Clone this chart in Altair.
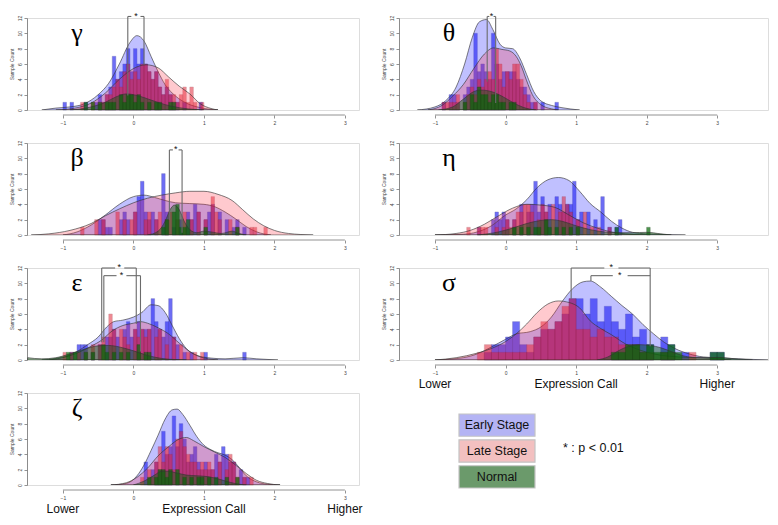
import altair as alt
import pandas as pd

SANS = "Liberation Sans, Arial, sans-serif"
SERIF = "Liberation Serif, Times New Roman, serif"

GROUPS = ["Early Stage", "Late Stage", "Normal"]
BAR_FILL = {"Early Stage": "#1414f0", "Late Stage": "#e0182a", "Normal": "#0b6b0b"}
BAR_OPACITY = {"Early Stage": 0.62, "Late Stage": 0.5, "Normal": 0.72}
BAR_STROKE = {"Early Stage": "#10108a", "Late Stage": "#8a1020", "Normal": "#0a3a0a"}
DENS_FILL = {"Early Stage": "#3030ff", "Late Stage": "#ff3040", "Normal": "#0a5a0a"}
DENS_OPACITY = {"Early Stage": 0.3, "Late Stage": 0.26, "Normal": 0.45}

X_TICKS = [-1, 0, 1, 2, 3]
Y_TICKS = [0, 2, 4, 6, 8, 10, 12]
FOOT_X = [-1, 1, 3]
FOOT_TEXT = ["Lower", "Expression Call", "Higher"]
LEGEND_LABELS = ["Early Stage", "Late Stage", "Normal"]
LEGEND_FILLS = ["#b4b4f4", "#f3c0c0", "#6b9a6b"]
P_NOTE = "* : p < 0.01"

# ---------------- gamma ----------------
GAMMA_EARLY_BARS = [(-1.0, 1), (-0.9, 1), (-0.7, 1), (-0.55, 1), (-0.5, 2), (-0.45, 1), (-0.4, 2), (-0.35, 3),
                    (-0.3, 7), (-0.25, 4), (-0.2, 5), (-0.15, 6), (-0.1, 8), (-0.05, 5), (0.0, 8), (0.05, 6),
                    (0.1, 8), (0.15, 6), (0.2, 5), (0.25, 4), (0.3, 5), (0.35, 3), (0.4, 2), (0.45, 3),
                    (0.5, 2), (0.55, 1), (0.6, 1), (0.7, 1), (0.93, 1)]
GAMMA_LATE_BARS = [(-0.75, 1), (-0.6, 1), (-0.5, 1), (-0.45, 1), (-0.4, 2), (-0.35, 2), (-0.3, 3), (-0.25, 4),
                   (-0.2, 3), (-0.15, 5), (-0.1, 6), (-0.05, 4), (0.0, 5), (0.05, 4), (0.1, 6), (0.15, 6),
                   (0.2, 5), (0.25, 4), (0.3, 5), (0.35, 3), (0.4, 2), (0.45, 4), (0.5, 2), (0.55, 2),
                   (0.6, 1), (0.65, 2), (0.7, 3), (0.75, 1), (0.8, 3), (0.85, 1), (0.95, 1)]
GAMMA_NORMAL_BARS = [(-0.7, 1), (-0.6, 1), (-0.5, 1), (-0.4, 1), (-0.35, 1), (-0.3, 1), (-0.2, 2), (-0.15, 1),
                     (-0.1, 2), (-0.05, 2), (0.0, 1), (0.05, 2), (0.1, 1), (0.2, 1), (0.3, 1), (0.35, 1),
                     (0.5, 1), (0.55, 1)]
GAMMA_EARLY_DENS = [(-1.3, 0), (-1.1, 0.25), (-0.9, 0.4), (-0.7, 0.8), (-0.5, 2.0), (-0.35, 3.5), (-0.2, 6.0),
                    (-0.05, 8.8), (0.05, 9.7), (0.15, 9.0), (0.25, 7.0), (0.35, 5.0), (0.45, 3.3), (0.6, 1.8),
                    (0.75, 0.9), (0.95, 0.3), (1.2, 0)]
GAMMA_LATE_DENS = [(-1.1, 0), (-0.8, 0.3), (-0.6, 0.9), (-0.4, 2.2), (-0.2, 4.0), (0.0, 5.4), (0.18, 5.9),
                   (0.35, 5.5), (0.5, 4.3), (0.65, 3.1), (0.8, 2.1), (0.95, 0.8), (1.1, 0.2), (1.2, 0)]
GAMMA_NORMAL_DENS = [(-0.9, 0), (-0.6, 0.4), (-0.4, 1.0), (-0.25, 1.7), (-0.1, 2.1), (0.05, 1.9), (0.25, 1.3),
                     (0.45, 0.7), (0.65, 0.3), (0.9, 0.05), (1.0, 0)]
GAMMA_SEGS = [(-0.08, 1.9, -0.08, 12.2), (0.15, 5.9, 0.15, 12.2), (-0.08, 12.2, -0.03, 12.2), (0.1, 12.2, 0.15, 12.2)]
GAMMA_STARS = [(0.035, 12.3)]

# ---------------- theta ----------------
THETA_EARLY_BARS = [(-0.9, 1), (-0.8, 2), (-0.75, 2), (-0.7, 1), (-0.6, 2), (-0.55, 3), (-0.5, 4), (-0.45, 10),
                    (-0.4, 5), (-0.35, 6), (-0.3, 5), (-0.25, 4), (-0.2, 10), (-0.15, 6), (-0.1, 4), (-0.05, 5),
                    (0.0, 5), (0.05, 5), (0.1, 5), (0.15, 4), (0.2, 3), (0.25, 3), (0.3, 2), (0.35, 1),
                    (0.4, 1), (0.5, 1), (0.7, 1)]
THETA_LATE_BARS = [(-0.9, 1), (-0.85, 1), (-0.8, 1), (-0.75, 1), (-0.7, 2), (-0.6, 1), (-0.55, 2), (-0.5, 3),
                   (-0.45, 2), (-0.4, 4), (-0.35, 3), (-0.3, 4), (-0.25, 5), (-0.2, 4), (-0.15, 8), (-0.1, 6),
                   (-0.05, 3), (0.0, 5), (0.05, 4), (0.1, 6), (0.15, 6), (0.2, 4), (0.25, 2), (0.3, 1), (0.4, 1)]
THETA_NORMAL_BARS = [(-0.6, 1), (-0.5, 2), (-0.45, 1), (-0.4, 3), (-0.35, 2), (-0.3, 2), (-0.25, 1), (-0.2, 2),
                     (-0.15, 2), (-0.1, 1), (-0.05, 1), (0.05, 1), (0.1, 1)]
THETA_EARLY_DENS = [(-1.25, 0), (-1.0, 0.4), (-0.85, 1.2), (-0.7, 3.0), (-0.58, 6.0), (-0.47, 9.5), (-0.37, 11.5),
                    (-0.27, 11.8), (-0.18, 10.5), (-0.08, 8.6), (0.0, 8.1), (0.1, 8.0), (0.2, 6.8), (0.3, 4.6),
                    (0.4, 2.4), (0.5, 1.2), (0.65, 0.6), (0.8, 0.3), (1.05, 0)]
THETA_LATE_DENS = [(-1.1, 0), (-0.9, 0.6), (-0.75, 1.8), (-0.6, 3.3), (-0.45, 5.4), (-0.3, 7.3), (-0.17, 8.1),
                   (-0.05, 7.9), (0.06, 7.7), (0.15, 7.0), (0.22, 5.8), (0.3, 3.8), (0.38, 2.0), (0.5, 0.7),
                   (0.65, 0.15), (0.75, 0)]
THETA_NORMAL_DENS = [(-0.95, 0), (-0.75, 0.4), (-0.6, 1.4), (-0.45, 2.4), (-0.35, 2.6), (-0.2, 2.4), (-0.05, 1.8),
                     (0.1, 1.0), (0.25, 0.35), (0.43, 0)]
THETA_SEGS = [(-0.26, 3.7, -0.26, 12.2), (-0.14, 0.9, -0.14, 12.2), (-0.26, 12.2, -0.23, 12.2), (-0.17, 12.2, -0.14, 12.2)]
THETA_STARS = [(-0.2, 12.3)]

# ---------------- beta ----------------
BETA_EARLY_BARS = [(-0.5, 2), (-0.45, 2), (-0.4, 1), (-0.35, 1), (-0.2, 2), (-0.15, 3), (-0.1, 2), (0.0, 3),
                   (0.05, 5), (0.1, 7), (0.15, 3), (0.2, 2), (0.25, 3), (0.3, 2), (0.4, 8), (0.45, 3),
                   (0.55, 1), (0.65, 2), (0.75, 3), (0.8, 2), (0.85, 4), (0.9, 3), (1.0, 2), (1.05, 3),
                   (1.1, 4), (1.2, 3), (1.3, 2), (1.4, 1), (1.45, 2), (1.55, 1)]
BETA_LATE_BARS = [(-0.75, 1), (-0.55, 2), (-0.45, 2), (-0.25, 3), (-0.15, 2), (-0.05, 2), (0.0, 3), (0.15, 2),
                  (0.2, 3), (0.3, 2), (0.35, 3), (0.45, 2), (0.5, 3), (0.6, 2), (0.7, 3), (0.8, 2), (0.9, 3),
                  (1.0, 2), (1.1, 5), (1.15, 3), (1.2, 2), (1.35, 2), (1.45, 1), (1.65, 1), (1.7, 1), (1.85, 1)]
BETA_NORMAL_BARS = [(0.4, 1), (0.45, 2), (0.55, 3), (0.6, 4), (0.65, 1), (0.7, 1), (0.75, 2), (1.0, 1), (1.45, 1)]
BETA_EARLY_DENS = [(-1.0, 0), (-0.8, 0.4), (-0.6, 1.3), (-0.4, 2.6), (-0.2, 4.0), (0.0, 5.0), (0.15, 5.2),
                   (0.3, 4.9), (0.45, 4.5), (0.6, 4.2), (0.8, 4.1), (1.0, 4.0), (1.15, 3.7), (1.3, 3.0),
                   (1.45, 2.1), (1.6, 1.1), (1.75, 0.4), (1.95, 0)]
BETA_LATE_DENS = [(-1.45, 0), (-1.2, 0.15), (-0.9, 0.6), (-0.6, 1.5), (-0.4, 2.5), (-0.2, 3.4), (0.0, 4.2),
                  (0.2, 4.8), (0.4, 5.2), (0.6, 5.5), (0.8, 5.7), (1.0, 5.7), (1.2, 5.3), (1.4, 4.5),
                  (1.55, 3.3), (1.7, 2.1), (1.85, 1.2), (2.0, 0.6), (2.2, 0.2), (2.55, 0)]
BETA_NORMAL_DENS = [(0.2, 0), (0.35, 0.5), (0.45, 1.8), (0.52, 3.3), (0.58, 3.9), (0.65, 3.3), (0.72, 1.8),
                    (0.8, 0.7), (0.9, 0.3), (1.0, 0.5), (1.1, 0.4), (1.25, 0.2), (1.4, 0.5), (1.5, 0.2), (1.6, 0)]
BETA_SEGS = [(0.51, 2.0, 0.51, 11.1), (0.69, 0.3, 0.69, 11.1), (0.51, 11.1, 0.56, 11.1), (0.64, 11.1, 0.69, 11.1)]
BETA_STARS = [(0.6, 11.2)]

# ---------------- eta ----------------
ETA_EARLY_BARS = [(-0.4, 1), (-0.2, 2), (-0.15, 3), (-0.1, 2), (-0.05, 3), (0.0, 2), (0.1, 2), (0.2, 4),
                  (0.3, 3), (0.35, 4), (0.4, 7), (0.45, 3), (0.5, 5), (0.55, 3), (0.6, 4), (0.7, 5),
                  (0.75, 4), (0.8, 3), (0.85, 4), (0.9, 4), (0.95, 7), (1.0, 2), (1.05, 3), (1.15, 3),
                  (1.25, 2), (1.35, 5), (1.45, 1), (1.55, 1), (1.6, 2)]
ETA_LATE_BARS = [(-0.55, 1), (-0.4, 1), (-0.35, 1), (-0.3, 1), (-0.15, 1), (-0.05, 1), (0.0, 2), (0.05, 1),
                 (0.1, 2), (0.15, 3), (0.2, 3), (0.25, 4), (0.3, 4), (0.35, 3), (0.45, 2), (0.5, 4), (0.55, 3),
                 (0.65, 4), (0.75, 3), (0.8, 5), (0.85, 4), (0.9, 3), (1.0, 2), (1.1, 3), (1.2, 1), (1.3, 1),
                 (1.45, 1)]
ETA_NORMAL_BARS = [(0.1, 1), (0.2, 1), (0.3, 1), (0.4, 1), (0.45, 1), (0.55, 2), (0.6, 1), (0.7, 1), (0.8, 1),
                   (0.9, 1), (1.0, 1), (1.55, 1), (2.0, 1)]
ETA_EARLY_DENS = [(-1.0, 0), (-0.6, 0.1), (-0.4, 0.4), (-0.2, 1.2), (0.0, 2.6), (0.15, 3.4), (0.3, 4.6),
                  (0.45, 6.2), (0.6, 7.2), (0.75, 7.5), (0.9, 7.1), (1.05, 5.7), (1.2, 4.1), (1.35, 3.0),
                  (1.5, 1.8), (1.65, 0.9), (1.8, 0.35), (2.0, 0.15), (2.55, 0)]
ETA_LATE_DENS = [(-1.0, 0), (-0.7, 0.2), (-0.5, 0.6), (-0.3, 1.4), (-0.1, 2.5), (0.1, 3.5), (0.3, 4.0),
                 (0.5, 3.9), (0.7, 3.6), (0.9, 2.6), (1.1, 1.6), (1.3, 0.9), (1.5, 0.4), (1.7, 0.15), (2.0, 0)]
ETA_NORMAL_DENS = [(-0.4, 0), (-0.1, 0.4), (0.1, 0.9), (0.3, 1.5), (0.5, 1.9), (0.65, 2.0), (0.8, 1.8),
                   (1.0, 1.2), (1.2, 0.7), (1.4, 0.4), (1.6, 0.3), (1.8, 0.3), (2.0, 0.35), (2.2, 0.15), (2.35, 0)]
ETA_SEGS = []
ETA_STARS = []

# ---------------- epsilon ----------------
EPS_EARLY_BARS = [(-0.9, 1), (-0.8, 2), (-0.75, 2), (-0.7, 2), (-0.6, 1), (-0.5, 2), (-0.4, 3), (-0.35, 3),
                  (-0.3, 4), (-0.25, 3), (-0.15, 4), (-0.1, 5), (-0.05, 3), (0.0, 4), (0.05, 5), (0.1, 4),
                  (0.15, 4), (0.2, 4), (0.25, 8), (0.3, 5), (0.35, 4), (0.4, 3), (0.45, 5), (0.5, 8),
                  (0.55, 3), (0.6, 2), (0.7, 1), (0.8, 1), (1.0, 1), (1.55, 1)]
EPS_LATE_BARS = [(-1.0, 1), (-0.9, 1), (-0.8, 1), (-0.7, 1), (-0.6, 2), (-0.5, 2), (-0.45, 3), (-0.35, 6),
                 (-0.3, 4), (-0.2, 4), (-0.15, 3), (-0.1, 2), (0.0, 4), (0.05, 3), (0.1, 4), (0.15, 3),
                 (0.2, 4), (0.3, 3), (0.35, 4), (0.45, 2), (0.55, 3), (0.65, 2), (0.75, 1), (0.85, 1), (0.95, 1)]
EPS_NORMAL_BARS = [(-0.95, 1), (-0.85, 1), (-0.7, 1), (-0.6, 1), (-0.45, 2), (-0.4, 1), (-0.3, 1), (-0.2, 1),
                   (-0.1, 1), (0.05, 2), (0.15, 1), (0.2, 1)]
EPS_EARLY_DENS = [(-1.3, 0), (-1.1, 0.2), (-0.95, 0.5), (-0.8, 1.1), (-0.65, 2.0), (-0.5, 3.0), (-0.38, 4.3),
                  (-0.28, 5.0), (-0.15, 5.2), (0.0, 5.6), (0.12, 6.2), (0.25, 7.2), (0.35, 7.1), (0.45, 6.2),
                  (0.55, 4.5), (0.65, 2.8), (0.75, 1.5), (0.9, 0.6), (1.1, 0.25), (1.3, 0.15), (1.55, 0.3),
                  (1.75, 0.15), (2.05, 0)]
EPS_LATE_DENS = [(-1.2, 0), (-1.0, 0.3), (-0.8, 0.9), (-0.6, 1.8), (-0.45, 2.6), (-0.3, 3.8), (-0.15, 4.5),
                 (0.0, 4.8), (0.1, 5.0), (0.2, 4.8), (0.35, 4.2), (0.5, 3.4), (0.65, 2.2), (0.8, 1.1),
                 (0.95, 0.4), (1.1, 0.1), (1.2, 0)]
EPS_NORMAL_DENS = [(-1.5, 0.3), (-1.3, 0.15), (-1.1, 0.3), (-0.9, 0.8), (-0.7, 1.4), (-0.5, 1.85), (-0.35, 1.9),
                   (-0.2, 1.7), (0.0, 1.2), (0.2, 0.6), (0.4, 0.2), (0.6, 0.05), (0.75, 0)]
EPS_SEGS = [(-0.45, 2.3, -0.45, 12.0), (0.04, 4.7, 0.04, 12.0), (-0.45, 12.0, -0.26, 12.0), (-0.13, 12.0, 0.04, 12.0),
            (-0.42, 2.3, -0.42, 11.0), (0.1, 1.1, 0.1, 11.0), (-0.42, 11.0, -0.24, 11.0), (-0.1, 11.0, 0.1, 11.0)]
EPS_STARS = [(-0.2, 12.1), (-0.17, 11.1)]

# ---------------- sigma ----------------
SIGMA_EARLY_BARS = [(-0.3, 1), (-0.2, 2), (-0.1, 2), (0.0, 3), (0.1, 5), (0.2, 2), (0.3, 1), (0.4, 3), (0.5, 4),
                    (0.6, 4), (0.7, 5), (0.8, 6), (0.9, 8), (1.0, 8), (1.1, 6), (1.2, 8), (1.3, 5), (1.4, 7),
                    (1.5, 5), (1.6, 4), (1.7, 6), (1.8, 3), (1.9, 4), (2.0, 2), (2.2, 3), (2.3, 2), (2.5, 1),
                    (2.9, 1), (3.0, 1)]
SIGMA_LATE_BARS = [(-0.4, 1), (-0.3, 2), (-0.2, 1), (-0.1, 1), (0.0, 1), (0.1, 1), (0.2, 1), (0.3, 2), (0.4, 3),
                   (0.5, 5), (0.6, 4), (0.7, 5), (0.8, 7), (0.9, 8), (1.0, 4), (1.1, 4), (1.2, 3), (1.3, 4),
                   (1.4, 3), (1.5, 3), (1.6, 2), (1.7, 2), (1.8, 2), (1.9, 1), (2.0, 1), (2.2, 1), (2.3, 1),
                   (2.6, 1)]
SIGMA_NORMAL_BARS = [(1.5, 1), (1.6, 1), (1.7, 2), (1.8, 2), (1.9, 1), (2.0, 2), (2.1, 1), (2.2, 1), (2.3, 2),
                     (2.4, 1), (2.9, 1), (3.0, 1)]
SIGMA_EARLY_DENS = [(-1.0, 0), (-0.6, 0.3), (-0.4, 0.8), (-0.2, 1.7), (0.0, 2.7), (0.15, 3.4), (0.35, 3.7),
                    (0.5, 4.3), (0.65, 5.6), (0.8, 7.6), (0.95, 9.3), (1.1, 10.2), (1.2, 10.3), (1.35, 9.5),
                    (1.5, 8.3), (1.65, 7.1), (1.8, 6.0), (1.95, 4.6), (2.1, 3.4), (2.25, 2.3), (2.4, 1.5),
                    (2.6, 0.8), (2.8, 0.4), (3.0, 0.3), (3.3, 0.15), (3.72, 0)]
SIGMA_LATE_DENS = [(-1.0, 0), (-0.7, 0.3), (-0.4, 0.9), (-0.2, 1.5), (0.0, 2.4), (0.15, 3.4), (0.3, 4.7),
                   (0.45, 6.2), (0.6, 7.3), (0.75, 7.7), (0.9, 7.5), (1.05, 6.8), (1.2, 5.1), (1.35, 4.1),
                   (1.5, 3.3), (1.7, 2.1), (1.9, 1.3), (2.1, 0.8), (2.3, 0.5), (2.6, 0.35), (2.8, 0.3),
                   (3.0, 0.15), (3.2, 0)]
SIGMA_NORMAL_DENS = [(1.3, 0), (1.45, 0.4), (1.6, 1.2), (1.75, 1.8), (1.9, 2.0), (2.05, 1.9), (2.2, 1.6),
                     (2.35, 1.1), (2.5, 0.6), (2.7, 0.3), (2.9, 0.3), (3.0, 0.35), (3.2, 0.2), (3.5, 0)]
SIGMA_SEGS = [(0.93, 8.0, 0.93, 12.0), (2.05, 1.8, 2.05, 12.0), (0.93, 12.0, 1.4, 12.0), (1.6, 12.0, 2.05, 12.0),
              (1.21, 10.3, 1.21, 11.0), (1.21, 11.0, 1.52, 11.0), (1.73, 11.0, 2.05, 11.0)]
SIGMA_STARS = [(1.5, 12.1), (1.62, 11.1)]

# ---------------- zeta ----------------
ZETA_EARLY_BARS = [(0.15, 3), (0.25, 2), (0.3, 3), (0.35, 2), (0.4, 7), (0.45, 4), (0.5, 5), (0.55, 9), (0.6, 5),
                   (0.65, 8), (0.7, 6), (0.75, 3), (0.8, 4), (0.85, 5), (0.9, 3), (0.95, 2), (1.0, 3), (1.05, 2),
                   (1.1, 2), (1.15, 4), (1.2, 3), (1.25, 5), (1.3, 4), (1.35, 3), (1.4, 3), (1.5, 2), (1.55, 1),
                   (1.6, 1)]
ZETA_LATE_BARS = [(0.1, 1), (0.2, 2), (0.25, 1), (0.3, 3), (0.35, 5), (0.4, 3), (0.45, 5), (0.5, 4), (0.55, 2),
                  (0.6, 6), (0.65, 7), (0.7, 5), (0.75, 4), (0.8, 3), (0.85, 3), (0.9, 2), (0.95, 3), (1.0, 2),
                  (1.05, 3), (1.1, 2), (1.2, 3), (1.3, 2), (1.35, 4), (1.4, 3), (1.45, 1), (1.55, 1), (1.65, 1)]
ZETA_NORMAL_BARS = [(0.2, 1), (0.3, 1), (0.35, 2), (0.4, 2), (0.45, 1), (0.5, 2), (0.6, 2), (0.7, 1), (0.8, 1),
                    (0.9, 1), (0.95, 1), (1.05, 1), (1.15, 1), (1.3, 1), (1.45, 1)]
ZETA_EARLY_DENS = [(-0.32, 0), (-0.1, 0.2), (0.05, 1.2), (0.15, 2.6), (0.25, 4.5), (0.35, 6.5), (0.45, 8.6),
                   (0.55, 9.8), (0.62, 9.9), (0.7, 9.2), (0.8, 7.8), (0.9, 6.3), (1.0, 5.2), (1.1, 4.6),
                   (1.2, 4.2), (1.3, 3.9), (1.4, 3.3), (1.5, 2.3), (1.6, 1.2), (1.75, 0.4), (1.9, 0.1), (2.08, 0)]
ZETA_LATE_DENS = [(-0.32, 0), (-0.1, 0.3), (0.05, 1.0), (0.2, 2.2), (0.35, 3.8), (0.5, 5.0), (0.65, 6.0),
                  (0.75, 6.2), (0.85, 5.8), (1.0, 5.0), (1.15, 4.3), (1.3, 3.6), (1.45, 2.6), (1.6, 1.5),
                  (1.75, 0.6), (1.9, 0.2), (2.08, 0)]
ZETA_NORMAL_DENS = [(0.0, 0), (0.15, 0.5), (0.3, 1.3), (0.4, 1.8), (0.5, 1.8), (0.6, 1.6), (0.75, 1.3),
                    (0.9, 1.2), (1.05, 1.1), (1.2, 0.8), (1.35, 0.4), (1.5, 0.1), (1.6, 0)]
ZETA_SEGS = []
ZETA_STARS = []

# ---------------- layout ----------------
PX = 70.5
H = 92
XMIN = -1.51
XMAX_LEFT = 3.2
XMAX_RIGHT = 3.72
W_LEFT = int(round((XMAX_LEFT - XMIN) * PX))
W_RIGHT = int(round((XMAX_RIGHT - XMIN) * PX))


def panel(letter, bw, bars, dens, segs, stars, xmax, width, foot=False):
    xsc = alt.Scale(domain=[XMIN, xmax], nice=False, zero=False)
    ysc = alt.Scale(domain=[0, 12], nice=False, zero=False)
    xax = alt.Axis(values=X_TICKS, offset=5, domain=False, grid=False, tickSize=3, tickColor="#777",
                   tickWidth=0.8, labelFontSize=5, labelColor="#444", labelPadding=2, title=None,
                   labelFont=SANS, format="d")
    yax = alt.Axis(values=Y_TICKS, domain=True, domainColor="#777", domainWidth=0.8, grid=False, tickSize=3,
                   tickColor="#777", tickWidth=0.8, labelFontSize=5, labelColor="#444", labelAngle=270,
                   labelAlign="center", labelBaseline="bottom", labelPadding=2, title="Sample Count",
                   titleFontSize=5, titleFont=SANS, titleFontWeight="normal", titleColor="#444",
                   titlePadding=3, labelFont=SANS)

    layers = []
    axis_df = pd.DataFrame({"a": [X_TICKS[0]], "b": [X_TICKS[-1]]})
    layers.append(alt.Chart(axis_df).mark_rule(color="#777", strokeWidth=0.8).encode(
        x=alt.X("a:Q", scale=xsc, axis=xax), x2="b:Q", y=alt.value(H + 5)))

    for g in GROUPS:
        bdf = pd.DataFrame([{"x0": x, "x1": x + bw, "n": n} for x, n in bars[g]])
        layers.append(alt.Chart(bdf).mark_rect(
            color=BAR_FILL[g], opacity=BAR_OPACITY[g], stroke=BAR_STROKE[g], strokeWidth=0.4).encode(
            x=alt.X("x0:Q", scale=xsc, axis=xax), x2="x1:Q",
            y=alt.Y("n:Q", scale=ysc, axis=yax), y2=alt.datum(0)))
        ddf = pd.DataFrame([{"x": x, "y": y} for x, y in dens[g]])
        layers.append(alt.Chart(ddf).mark_area(
            fill=DENS_FILL[g], fillOpacity=DENS_OPACITY[g], stroke="#333333", strokeWidth=0.7,
            strokeOpacity=0.9, interpolate="monotone", orient="vertical", clip=True).encode(
            x=alt.X("x:Q", scale=xsc, axis=xax),
            y=alt.Y("y:Q", scale=ysc, axis=yax, stack=None)))

    if segs:
        sdf = pd.DataFrame([{"x": a, "y": b, "x2": c, "y2": d} for a, b, c, d in segs])
        layers.append(alt.Chart(sdf).mark_rule(color="#6a6a6a", strokeWidth=1.1).encode(
            x=alt.X("x:Q", scale=xsc, axis=xax), x2="x2:Q",
            y=alt.Y("y:Q", scale=ysc, axis=yax), y2="y2:Q"))
    if stars:
        tdf = pd.DataFrame([{"x": a, "y": b, "t": "*"} for a, b in stars])
        layers.append(alt.Chart(tdf).mark_text(fontSize=9, font=SANS, color="#111", baseline="middle").encode(
            x=alt.X("x:Q", scale=xsc, axis=xax), y=alt.Y("y:Q", scale=ysc, axis=yax), text="t:N"))

    ldf = pd.DataFrame({"x": [-0.8], "y": [10.0], "t": [letter]})
    layers.append(alt.Chart(ldf).mark_text(fontSize=26, font=SERIF, color="#000", baseline="middle").encode(
        x=alt.X("x:Q", scale=xsc, axis=xax), y=alt.Y("y:Q", scale=ysc, axis=yax), text="t:N"))

    if foot:
        fdf = pd.DataFrame({"x": FOOT_X, "t": FOOT_TEXT})
        layers.append(alt.Chart(fdf).mark_text(fontSize=12, font=SANS, color="#111", baseline="middle").encode(
            x=alt.X("x:Q", scale=xsc, axis=xax), y=alt.value(H + 24), text="t:N"))

    return alt.layer(*layers).properties(width=width, height=H)


def bars_of(e, l, n):
    return {"Early Stage": e, "Late Stage": l, "Normal": n}


gamma = panel("γ", 0.05, bars_of(GAMMA_EARLY_BARS, GAMMA_LATE_BARS, GAMMA_NORMAL_BARS),
              bars_of(GAMMA_EARLY_DENS, GAMMA_LATE_DENS, GAMMA_NORMAL_DENS), GAMMA_SEGS, GAMMA_STARS,
              XMAX_LEFT, W_LEFT)
theta = panel("θ", 0.05, bars_of(THETA_EARLY_BARS, THETA_LATE_BARS, THETA_NORMAL_BARS),
              bars_of(THETA_EARLY_DENS, THETA_LATE_DENS, THETA_NORMAL_DENS), THETA_SEGS, THETA_STARS,
              XMAX_RIGHT, W_RIGHT)
beta = panel("β", 0.05, bars_of(BETA_EARLY_BARS, BETA_LATE_BARS, BETA_NORMAL_BARS),
             bars_of(BETA_EARLY_DENS, BETA_LATE_DENS, BETA_NORMAL_DENS), BETA_SEGS, BETA_STARS,
             XMAX_LEFT, W_LEFT)
eta = panel("η", 0.05, bars_of(ETA_EARLY_BARS, ETA_LATE_BARS, ETA_NORMAL_BARS),
            bars_of(ETA_EARLY_DENS, ETA_LATE_DENS, ETA_NORMAL_DENS), ETA_SEGS, ETA_STARS,
            XMAX_RIGHT, W_RIGHT)
eps = panel("ε", 0.05, bars_of(EPS_EARLY_BARS, EPS_LATE_BARS, EPS_NORMAL_BARS),
            bars_of(EPS_EARLY_DENS, EPS_LATE_DENS, EPS_NORMAL_DENS), EPS_SEGS, EPS_STARS,
            XMAX_LEFT, W_LEFT)
sigma = panel("σ", 0.1, bars_of(SIGMA_EARLY_BARS, SIGMA_LATE_BARS, SIGMA_NORMAL_BARS),
              bars_of(SIGMA_EARLY_DENS, SIGMA_LATE_DENS, SIGMA_NORMAL_DENS), SIGMA_SEGS, SIGMA_STARS,
              XMAX_RIGHT, W_RIGHT, foot=True)
zeta = panel("ζ", 0.05, bars_of(ZETA_EARLY_BARS, ZETA_LATE_BARS, ZETA_NORMAL_BARS),
             bars_of(ZETA_EARLY_DENS, ZETA_LATE_DENS, ZETA_NORMAL_DENS), ZETA_SEGS, ZETA_STARS,
             XMAX_LEFT, W_LEFT, foot=True)

# legend cell
legend_df = pd.DataFrame({"label": LEGEND_LABELS, "fill": LEGEND_FILLS})
ysc_leg = alt.Scale(domain=LEGEND_LABELS, range=[21, 95], paddingInner=0.14, paddingOuter=0)
leg_boxes = alt.Chart(legend_df).mark_rect(stroke="#c4c4c4", strokeWidth=1.2).encode(
    y=alt.Y("label:N", sort=LEGEND_LABELS, scale=ysc_leg, axis=None),
    x=alt.value(60), x2=alt.value(136),
    color=alt.Color("fill:N", scale=None, legend=None))
leg_text = alt.Chart(legend_df).mark_text(fontSize=12.5, font=SANS, color="#111", baseline="middle").encode(
    y=alt.Y("label:N", sort=LEGEND_LABELS, scale=ysc_leg, axis=None),
    x=alt.value(98), text="label:N")
note = alt.Chart(pd.DataFrame({"t": [P_NOTE]})).mark_text(
    fontSize=12.5, font=SANS, color="#111", align="left", baseline="middle").encode(
    x=alt.value(164), y=alt.value(55), text="t:N")
legend_cell = alt.layer(leg_boxes, leg_text, note).properties(
    width=W_RIGHT, height=H, view=alt.ViewBackground(stroke=None, fill=None))

chart = alt.ConcatChart(
    concat=[gamma, theta, beta, eta, eps, sigma, zeta, legend_cell],
    columns=2,
    spacing={"row": 33, "column": 40},
    bounds="flush",
    align="each",
).properties(
    padding={"left": 0, "top": 3, "right": 0, "bottom": 0}
).configure_view(stroke=None).configure(background="white")

chart.save("out.html", embed_options={"renderer": "svg", "actions": False})
